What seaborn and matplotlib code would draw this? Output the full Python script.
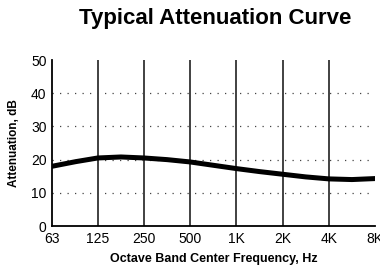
import numpy as np
import pandas as pd
import matplotlib
matplotlib.use("Agg")
import matplotlib.pyplot as plt
import seaborn as sns

# Curve (octave and half-octave points)
freq_hz = [63, 90, 125, 177, 250, 354, 500, 707, 1000, 1414, 2000, 2828, 4000, 5657, 8000]
atten_db = [18.0, 19.4, 20.5, 20.8, 20.5, 20.0, 19.3, 18.3, 17.3, 16.4, 15.6, 14.8, 14.2, 14.0, 14.3]

band_ticks = [63, 125, 250, 500, 1000, 2000, 4000, 8000]
band_labels = ["63", "125", "250", "500", "1K", "2K", "4K", "8K"]
y_ticks = [0, 10, 20, 30, 40, 50]

df = pd.DataFrame({"freq": freq_hz, "atten": atten_db})

sns.set_style("white")
plt.rcParams["font.family"] = ["Liberation Sans Narrow", "Liberation Sans", "DejaVu Sans"]
plt.rcParams["text.color"] = "black"
plt.rcParams["axes.labelcolor"] = "black"
plt.rcParams["xtick.color"] = "black"
plt.rcParams["ytick.color"] = "black"

fig = plt.figure(figsize=(3.8, 2.74), dpi=100)
ax = fig.add_axes([0.137, 0.175, 0.850, 0.606])

# grid: solid verticals at octave bands, dotted horizontals
for f in band_ticks[1:-1]:
    ax.axvline(f, color="#333333", lw=1.3, zorder=1)
for y in y_ticks[1:-1]:
    ax.axhline(y, color="#444444", lw=0.9, ls=(0, (1, 5)), zorder=1)

sns.lineplot(data=df, x="freq", y="atten", ax=ax, color="black", lw=3.6, zorder=3)

ax.set_xscale("log")
ax.set_xlim(63, 8000)
ax.set_ylim(0, 50)
ax.set_xticks(band_ticks)
ax.set_xticklabels(band_labels)
ax.minorticks_off()
ax.set_yticks(y_ticks)
ax.tick_params(axis="both", length=0, labelsize=10, pad=4)

for s in ["top", "right"]:
    ax.spines[s].set_visible(False)
for s in ["left", "bottom"]:
    ax.spines[s].set_color("black")
    ax.spines[s].set_linewidth(1.3)

ax.set_xlabel("Octave Band Center Frequency, Hz", fontsize=9, fontweight="bold", labelpad=5)
ax.set_ylabel("Attenuation, dB", fontsize=8.5, fontweight="bold", labelpad=8)
fig.suptitle("Typical Attenuation Curve", fontsize=16, fontweight="bold", x=0.565, y=0.97)

fig.savefig("out.png", dpi=100)
